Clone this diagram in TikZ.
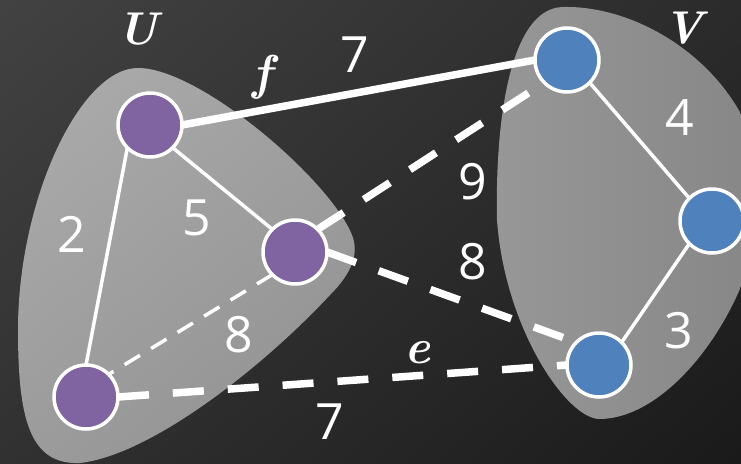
\documentclass[tikz,border=0pt]{standalone}
\usepackage{fontspec}
\setmainfont{Open Sans}
\newfontfamily\setfont{Latin Modern Roman}
\begin{document}
\begin{tikzpicture}[x=1pt,y=-1pt,
  vtx/.style={circle,draw=white,line width=3.5pt,minimum size=64pt,inner sep=0pt,outer sep=0pt},
  purplev/.style={vtx,fill=vpurple},
  bluev/.style={vtx,fill=vblue},
  heavy/.style={white,line width=7.5pt},
  light/.style={white,line width=3.5pt},
  heavydash/.style={heavy,dash pattern=on 31pt off 24pt},
  lightdash/.style={light,dash pattern=on 18pt off 13pt},
  weight/.style={text=white,inner sep=0pt,font=\fontsize{50}{60}\selectfont},
  setname/.style={text=white,inner sep=0pt,font=\setfont\bfseries\itshape\fontsize{46}{55}\selectfont},
  edgename/.style={setname,font=\setfont\bfseries\itshape\fontsize{49}{58}\selectfont},
]
\definecolor{vpurple}{HTML}{8064A2}
\definecolor{vblue}{HTML}{4F81BD}
\definecolor{bgtl}{HTML}{424242}
\definecolor{bgbr}{HTML}{1A1A1A}
\definecolor{ublobhi}{HTML}{A8A8A8}
\definecolor{ubloblo}{HTML}{939393}
\definecolor{vblobhi}{HTML}{979797}
\definecolor{vbloblo}{HTML}{868686}

% dark backdrop
\useasboundingbox (0,0) rectangle (741,463);
\shade[top color=bgtl,bottom color=bgbr,shading angle=40] (-120,-120) rectangle (861,583);

% the two vertex sets
\shade[top color=ublobhi,bottom color=ubloblo,shading angle=40]
  (138,68) .. controls (200,68) and (330,180) .. (352,235)
  .. controls (360,255) and (350,275) .. (330,295)
  .. controls (260,370) and (150,455) .. (80,463)
  .. controls (30,465) and (18,420) .. (18,330)
  .. controls (18,200) and (80,68) .. (138,68) -- cycle;
\shade[left color=vblobhi,right color=vbloblo]
  (563,7) .. controls (650,5) and (755,80) .. (762,185)
  .. controls (766,285) and (680,418) .. (600,419)
  .. controls (568,420) and (505,330) .. (497,220)
  .. controls (495,120) and (510,8) .. (563,7) -- cycle;

% vertices
\node[purplev] (a) at (150,125) {};
\node[purplev] (b) at (295,252) {};
\node[purplev] (c) at (86,397) {};
\node[bluev] (d) at (567,60) {};
\node[bluev] (e) at (712,221) {};
\node[bluev] (g) at (599,365) {};

% edges
\draw[heavy] (a.east) -- (d.west);
\draw[light] (a.south east) -- (b.north west);
\draw[light] (a.south west) -- (c.north);
\draw[lightdash] (b.south west) -- (c.north east);
\draw[heavydash] (b.north east) -- (d.south west);
\draw[heavydash] (b.east) -- (g.north west);
\draw[heavydash] (c.east) -- (g.west);
\draw[light] (d.south east) -- (e.north west);
\draw[light] (e.south west) -- (g.north east);

% labels
\node[setname] (lu) at (138,29) {U};
\node[setname] (lv) at (683,28) {V};
\node[edgename] (lf) at (262,77) {f};
\node[edgename] (le) at (418,353) {e};
\node[weight] (w1) at (355,55) {7};
\node[weight] (w2) at (680,118) {4};
\node[weight] (w3) at (473,182) {9};
\node[weight] (w4) at (197,218) {5};
\node[weight] (w5) at (72,234) {2};
\node[weight] (w6) at (473,262) {8};
\node[weight] (w7) at (239,335) {8};
\node[weight] (w8) at (679,331) {3};
\node[weight] (w9) at (330,422) {7};
\end{tikzpicture}
\end{document}
